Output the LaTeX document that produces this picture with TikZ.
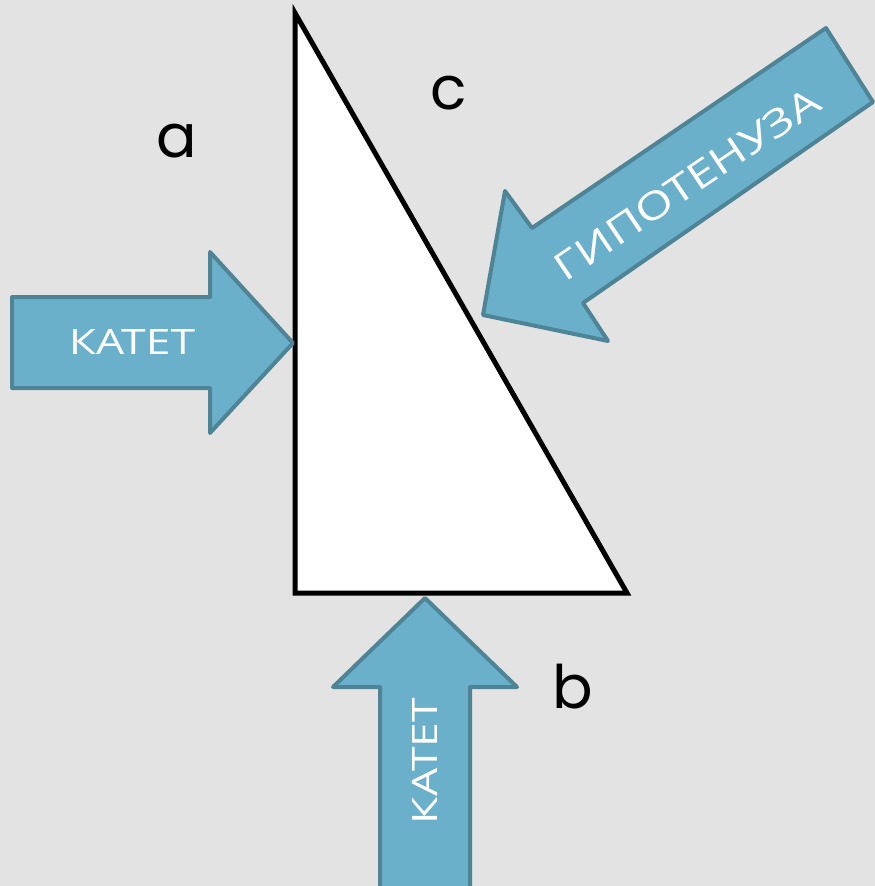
\documentclass[tikz,border=0pt]{standalone}
\usepackage{fontspec}
\setmainfont{Open Sans}
\newfontfamily\widefont[FakeStretch=1.27]{Open Sans}
\newfontfamily\geofont{Poppins}
\definecolor{bgcol}{HTML}{E3E3E3}
\definecolor{arrfill}{HTML}{6AB0CB}
\definecolor{arredge}{HTML}{4E8496}
\tikzset{
  arrowshape/.style={fill=arrfill, draw=arredge, line width=4pt, line join=round},
  tri/.style={fill=white, draw=black, line width=5pt, line join=miter},
  arrtext/.style={text=white, font=\widefont\fontsize{35}{40}\selectfont, inner sep=0pt},
  letter/.style={text=black, font=\geofont\fontsize{60}{66}\selectfont, inner sep=0pt}
}
\begin{document}
\begin{tikzpicture}[x=1pt,y=-1pt]
\fill[bgcol] (0,0) rectangle (875,886);
\useasboundingbox (0,0) rectangle (875,886);
% triangle
\draw[tri] (295,13) -- (295,593) -- (627,593) -- cycle;
% left arrow
\draw[arrowshape] (12,297) -- (210,297) -- (210,252) -- (293,343) -- (210,433) -- (210,388) -- (12,388) -- cycle;
\node[arrtext] (k1) at (132,342) {КАТЕТ};
% bottom arrow
\draw[arrowshape] (380,900) -- (380,687) -- (333,687) -- (425,598) -- (517,687) -- (470,687) -- (470,900) -- cycle;
\node[arrtext, rotate=90] (k2) at (425,761) {КАТЕТ};
% hypotenuse arrow
\draw[arrowshape] (826,28) -- (873,102) -- (583,303) -- (608,341) -- (483,315) -- (505,191) -- (532,228) -- cycle;
\node[arrtext, rotate=34, font=\widefont\fontsize{38}{42}\selectfont] (hyp) at (687,184) {ГИПОТЕНУЗА};
% letters
\node[letter] (la) at (177,141) {a};
\node[letter] (lc) at (449,93) {c};
\node[letter] (lb) at (573,687) {b};
\end{tikzpicture}
\end{document}
